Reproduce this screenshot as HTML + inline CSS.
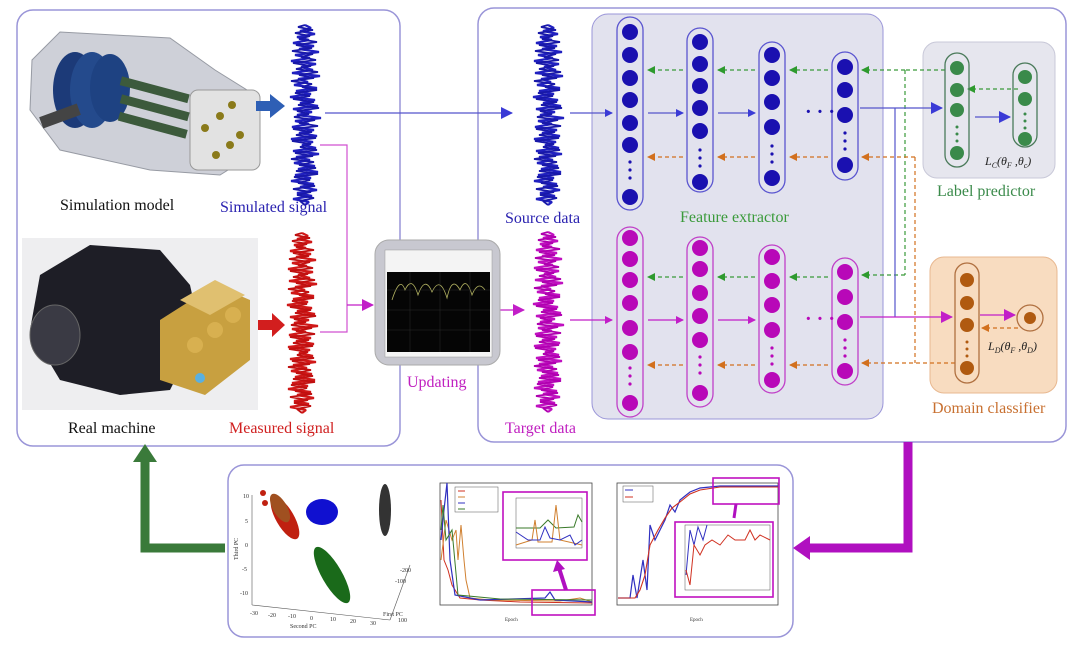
<!DOCTYPE html>
<html><head><meta charset="utf-8"><style>
html,body{margin:0;padding:0;background:#fff;}
svg{display:block;font-family:"Liberation Serif",serif;}
</style></head><body>
<svg width="1080" height="649" viewBox="0 0 1080 649" xmlns="http://www.w3.org/2000/svg">
<defs>
<path id="sig" d="M0,0 L6,3 L-5,6 L10,9 L-8,12 L4,15 L-12,18 L9,21 L-6,24 L14,27 L-10,30 L5,33 L-14,36 L11,39 L-4,42 L8,45 L-13,48 L15,51 L-7,54 L3,57 L-11,60 L12,63 L-9,66 L6,69 L-15,72 L10,75 L-5,78 L13,81 L-12,84 L7,87 L-8,90 L16,93 L-10,96 L4,99 L-13,102 L9,105 L-6,108 L12,111 L-14,114 L8,117 L-3,120 L11,123 L-12,126 L14,129 L-9,132 L5,135 L-11,138 L10,141 L-7,144 L13,147 L-10,150 L6,153 L-14,156 L9,159 L-5,162 L12,165 L-8,168 L7,171 L-12,174 L4,177 L0,180" fill="none" stroke="currentColor" stroke-width="2.2" stroke-linejoin="bevel"/>
<path id="sig2" d="M0,0 L-7,2 L8,5 L-10,8 L5,11 L-6,14 L12,17 L-9,20 L7,23 L-13,26 L8,29 L-4,32 L11,35 L-12,38 L6,41 L-9,44 L13,47 L-6,50 L9,53 L-14,56 L7,59 L-3,62 L12,65 L-10,68 L5,71 L-12,74 L9,77 L-7,80 L14,83 L-8,86 L4,89 L-11,92 L10,95 L-6,98 L13,101 L-12,104 L7,107 L-9,110 L11,113 L-13,116 L6,119 L-5,122 L12,125 L-10,128 L8,131 L-14,134 L9,137 L-6,140 L11,143 L-9,146 L13,149 L-11,152 L5,155 L-7,158 L10,161 L-12,164 L6,167 L-8,170 L9,173 L-5,176 L0,180" fill="none" stroke="currentColor" stroke-width="1.8" stroke-linejoin="bevel"/>
<marker id="ab" markerWidth="8" markerHeight="8" refX="7" refY="4" orient="auto" markerUnits="userSpaceOnUse"><path d="M0,0 L8,4 L0,8z" fill="#3b3bd6"/></marker>
<marker id="am" markerWidth="8" markerHeight="8" refX="7" refY="4" orient="auto" markerUnits="userSpaceOnUse"><path d="M0,0 L8,4 L0,8z" fill="#c21ec8"/></marker>
<marker id="ag" markerWidth="8" markerHeight="8" refX="7" refY="4" orient="auto" markerUnits="userSpaceOnUse"><path d="M0,0 L8,4 L0,8z" fill="#2e9a2e"/></marker>
<marker id="ao" markerWidth="8" markerHeight="8" refX="7" refY="4" orient="auto" markerUnits="userSpaceOnUse"><path d="M0,0 L8,4 L0,8z" fill="#d2701e"/></marker>
<marker id="abb" markerWidth="12" markerHeight="12" refX="11" refY="6" orient="auto" markerUnits="userSpaceOnUse"><path d="M0,0 L12,6 L0,12z" fill="#3b3bd6"/></marker>
<marker id="amb" markerWidth="12" markerHeight="12" refX="11" refY="6" orient="auto" markerUnits="userSpaceOnUse"><path d="M0,0 L12,6 L0,12z" fill="#c21ec8"/></marker>
</defs>

<rect x="17" y="10" width="383" height="436" rx="16" fill="none" stroke="#9a95d8" stroke-width="1.5"/>
<rect x="478" y="8" width="588" height="434" rx="16" fill="none" stroke="#9a95d8" stroke-width="1.5"/>
<rect x="592" y="14" width="291" height="405" rx="16" fill="#e2e2ee" stroke="#9a95d8" stroke-width="1"/>
<rect x="923" y="42" width="132" height="136" rx="14" fill="#e6e6ee" stroke="#c8c8d8"/>
<rect x="930" y="257" width="127" height="136" rx="14" fill="#f8dcc0" stroke="#e8b890"/>
<rect x="228" y="465" width="565" height="172" rx="16" fill="none" stroke="#9a95d8" stroke-width="1.5"/>

<g>
<polygon points="32,60 60,32 170,38 215,70 255,95 260,150 220,175 150,170 60,150 30,110" fill="#c9ccd4" stroke="#8c909a" stroke-width="1" opacity="0.9"/>
<rect x="190" y="90" width="70" height="80" rx="8" fill="#e2e2e2" stroke="#999"/>
<ellipse cx="75" cy="90" rx="22" ry="38" fill="#1c3a78"/>
<ellipse cx="92" cy="90" rx="22" ry="38" fill="#244a8c"/>
<ellipse cx="110" cy="88" rx="20" ry="34" fill="#1e4282"/>
<rect x="40" y="110" width="40" height="12" fill="#444" transform="rotate(-20 60 116)"/>
<rect x="120" y="84" width="70" height="9" fill="#3c5a3c" transform="rotate(15 150 88)"/>
<rect x="120" y="102" width="70" height="9" fill="#3c5a3c" transform="rotate(15 150 106)"/>
<rect x="118" y="120" width="70" height="9" fill="#3c5a3c" transform="rotate(15 150 124)"/>
<circle cx="205" cy="128" r="4" fill="#8a7a1a"/><circle cx="220" cy="116" r="4" fill="#8a7a1a"/><circle cx="232" cy="105" r="4" fill="#8a7a1a"/>
<circle cx="216" cy="155" r="4" fill="#8a7a1a"/><circle cx="230" cy="145" r="4" fill="#8a7a1a"/><circle cx="240" cy="135" r="4" fill="#8a7a1a"/>
</g>
<path d="M256,101 L270,101 L270,94 L285,106 L270,118 L270,111 L256,111z" fill="#2e5fb5"/>
<rect x="22" y="238" width="236" height="172" fill="#eeeef0"/>
<g>
<polygon points="30,330 40,275 90,245 160,250 190,285 200,330 170,390 120,395 60,380" fill="#1e1e26"/>
<ellipse cx="55" cy="335" rx="25" ry="30" fill="#3a3a44" stroke="#666"/>
<polygon points="160,320 215,285 250,300 250,360 205,395 160,380" fill="#c8a040"/>
<polygon points="180,300 215,280 245,295 210,315" fill="#e0c070"/>
<circle cx="195" cy="345" r="8" fill="#d8b050"/><circle cx="215" cy="330" r="8" fill="#d8b050"/><circle cx="233" cy="315" r="8" fill="#d8b050"/>
<circle cx="200" cy="378" r="5" fill="#5ab0e0"/>
</g>
<path d="M258,320 L272,320 L272,313 L285,325 L272,337 L272,330 L258,330z" fill="#d21e1e"/>

<use href="#sig" x="305" y="25" color="#2020c0"/>
<use href="#sig2" x="305" y="25" color="#1818a8"/>
<use href="#sig" x="302" y="233" color="#d01818"/>
<use href="#sig2" x="302" y="233" color="#c01010"/>
<use href="#sig" x="548" y="25" color="#2020c0"/>
<use href="#sig2" x="548" y="25" color="#1818a8"/>
<use href="#sig" x="548" y="232" color="#c010c0"/>
<use href="#sig2" x="548" y="232" color="#b000b0"/>

<line x1="325" y1="113" x2="512" y2="113" stroke="#5555cc" stroke-width="1.3" marker-end="url(#abb)"/>
<polyline points="320,145 347,145 347,332 320,332" fill="none" stroke="#d050d0" stroke-width="1.2"/>
<line x1="347" y1="305" x2="373" y2="305" stroke="#c21ec8" stroke-width="1.2" marker-end="url(#amb)"/>
<line x1="497" y1="310" x2="524" y2="310" stroke="#c21ec8" stroke-width="1.2" marker-end="url(#amb)"/>

<rect x="375" y="240" width="125" height="125" rx="14" fill="#c8c8d0" stroke="#aaa"/>
<rect x="385" y="250" width="107" height="107" fill="#f4f4f4" stroke="#999" stroke-width="0.5"/>
<rect x="387" y="272" width="103" height="80" fill="#050505"/>
<path d="M392,300 Q400,275 405,290 Q412,275 418,295 Q425,275 432,292 Q440,275 447,298 Q452,275 460,290 Q466,275 472,295 Q478,280 485,290" fill="none" stroke="#b0b060" stroke-width="0.8"/>
<g stroke="#333" stroke-width="0.4"><line x1="387" y1="290" x2="490" y2="290"/><line x1="387" y1="310" x2="490" y2="310"/><line x1="387" y1="330" x2="490" y2="330"/><line x1="410" y1="272" x2="410" y2="352"/><line x1="440" y1="272" x2="440" y2="352"/><line x1="470" y1="272" x2="470" y2="352"/></g>

<g font-size="16">
<text x="60" y="210" fill="#111">Simulation model</text>
<text x="220" y="212" fill="#2a22b0">Simulated signal</text>
<text x="68" y="433" fill="#111">Real machine</text>
<text x="229" y="433" fill="#d02020">Measured signal</text>
<text x="407" y="387" fill="#c020c0">Updating</text>
<text x="505" y="223" fill="#2a22b0">Source data</text>
<text x="505" y="433" fill="#c020c0">Target data</text>
<text x="680" y="222" fill="#3a9a3a">Feature extractor</text>
<text x="937" y="196" fill="#3a8a4a">Label predictor</text>
<text x="932" y="413" fill="#c87030">Domain classifier</text>
</g>
<g font-size="12" font-style="italic" fill="#222">
<text x="985" y="165">L<tspan font-size="8" dy="3">C</tspan><tspan dy="-3">(θ</tspan><tspan font-size="8" dy="3">F</tspan><tspan dy="-3"> ,θ</tspan><tspan font-size="8" dy="3">c</tspan><tspan dy="-3">)</tspan></text>
<text x="988" y="350">L<tspan font-size="8" dy="3">D</tspan><tspan dy="-3">(θ</tspan><tspan font-size="8" dy="3">F</tspan><tspan dy="-3"> ,θ</tspan><tspan font-size="8" dy="3">D</tspan><tspan dy="-3">)</tspan></text>
</g>

<g fill="none" stroke="#5a55d0" stroke-width="1.3">
<rect x="617" y="17" width="26" height="193" rx="13"/>
<rect x="687" y="28" width="26" height="164" rx="13"/>
<rect x="759" y="42" width="26" height="151" rx="13"/>
<rect x="832" y="52" width="26" height="128" rx="13"/>
</g>
<g fill="#1a10b0">
<circle cx="630" cy="32" r="8"/><circle cx="630" cy="55" r="8"/><circle cx="630" cy="78" r="8"/><circle cx="630" cy="100" r="8"/><circle cx="630" cy="123" r="8"/><circle cx="630" cy="145" r="8"/>
<circle cx="630" cy="162" r="1.6"/><circle cx="630" cy="170" r="1.6"/><circle cx="630" cy="178" r="1.6"/><circle cx="630" cy="197" r="8"/>
<circle cx="700" cy="42" r="8"/><circle cx="700" cy="64" r="8"/><circle cx="700" cy="86" r="8"/><circle cx="700" cy="108" r="8"/><circle cx="700" cy="131" r="8"/>
<circle cx="700" cy="150" r="1.6"/><circle cx="700" cy="158" r="1.6"/><circle cx="700" cy="166" r="1.6"/><circle cx="700" cy="182" r="8"/>
<circle cx="772" cy="55" r="8"/><circle cx="772" cy="78" r="8"/><circle cx="772" cy="102" r="8"/><circle cx="772" cy="127" r="8"/>
<circle cx="772" cy="146" r="1.6"/><circle cx="772" cy="154" r="1.6"/><circle cx="772" cy="162" r="1.6"/><circle cx="772" cy="178" r="8"/>
<circle cx="845" cy="67" r="8"/><circle cx="845" cy="90" r="8"/><circle cx="845" cy="115" r="8"/>
<circle cx="845" cy="133" r="1.6"/><circle cx="845" cy="141" r="1.6"/><circle cx="845" cy="149" r="1.6"/><circle cx="845" cy="165" r="8"/>
</g>
<g fill="none" stroke="#c040c8" stroke-width="1.3">
<rect x="617" y="227" width="26" height="190" rx="13"/>
<rect x="687" y="237" width="26" height="170" rx="13"/>
<rect x="759" y="245" width="26" height="148" rx="13"/>
<rect x="832" y="258" width="26" height="127" rx="13"/>
</g>
<g fill="#b808b8">
<circle cx="630" cy="238" r="8"/><circle cx="630" cy="259" r="8"/><circle cx="630" cy="280" r="8"/><circle cx="630" cy="303" r="8"/><circle cx="630" cy="328" r="8"/><circle cx="630" cy="352" r="8"/>
<circle cx="630" cy="368" r="1.6"/><circle cx="630" cy="376" r="1.6"/><circle cx="630" cy="384" r="1.6"/><circle cx="630" cy="403" r="8"/>
<circle cx="700" cy="248" r="8"/><circle cx="700" cy="269" r="8"/><circle cx="700" cy="293" r="8"/><circle cx="700" cy="316" r="8"/><circle cx="700" cy="340" r="8"/>
<circle cx="700" cy="357" r="1.6"/><circle cx="700" cy="365" r="1.6"/><circle cx="700" cy="373" r="1.6"/><circle cx="700" cy="393" r="8"/>
<circle cx="772" cy="257" r="8"/><circle cx="772" cy="281" r="8"/><circle cx="772" cy="305" r="8"/><circle cx="772" cy="330" r="8"/>
<circle cx="772" cy="348" r="1.6"/><circle cx="772" cy="356" r="1.6"/><circle cx="772" cy="364" r="1.6"/><circle cx="772" cy="380" r="8"/>
<circle cx="845" cy="272" r="8"/><circle cx="845" cy="297" r="8"/><circle cx="845" cy="322" r="8"/>
<circle cx="845" cy="340" r="1.6"/><circle cx="845" cy="348" r="1.6"/><circle cx="845" cy="356" r="1.6"/><circle cx="845" cy="371" r="8"/>
</g>
<g font-size="20" font-weight="bold" fill="#1a10b0"><text x="805" y="118">· · ·</text></g>
<g font-size="20" font-weight="bold" fill="#b808b8"><text x="805" y="325">· · ·</text></g>

<g stroke-width="1.2">
<line x1="570" y1="113" x2="612" y2="113" stroke="#5555cc" marker-end="url(#ab)"/>
<line x1="648" y1="113" x2="683" y2="113" stroke="#5555cc" marker-end="url(#ab)"/>
<line x1="718" y1="113" x2="755" y2="113" stroke="#5555cc" marker-end="url(#ab)"/>
<line x1="570" y1="320" x2="612" y2="320" stroke="#c21ec8" marker-end="url(#am)"/>
<line x1="648" y1="320" x2="683" y2="320" stroke="#c21ec8" marker-end="url(#am)"/>
<line x1="718" y1="320" x2="755" y2="320" stroke="#c21ec8" marker-end="url(#am)"/>
<g stroke-dasharray="4,3">
<line x1="683" y1="70" x2="648" y2="70" stroke="#3a9a3a" marker-end="url(#ag)"/>
<line x1="755" y1="70" x2="718" y2="70" stroke="#3a9a3a" marker-end="url(#ag)"/>
<line x1="828" y1="70" x2="790" y2="70" stroke="#3a9a3a" marker-end="url(#ag)"/>
<line x1="683" y1="157" x2="648" y2="157" stroke="#d2701e" marker-end="url(#ao)"/>
<line x1="755" y1="157" x2="718" y2="157" stroke="#d2701e" marker-end="url(#ao)"/>
<line x1="828" y1="157" x2="790" y2="157" stroke="#d2701e" marker-end="url(#ao)"/>
<line x1="683" y1="277" x2="648" y2="277" stroke="#3a9a3a" marker-end="url(#ag)"/>
<line x1="755" y1="277" x2="718" y2="277" stroke="#3a9a3a" marker-end="url(#ag)"/>
<line x1="828" y1="277" x2="790" y2="277" stroke="#3a9a3a" marker-end="url(#ag)"/>
<line x1="683" y1="365" x2="648" y2="365" stroke="#d2701e" marker-end="url(#ao)"/>
<line x1="755" y1="365" x2="718" y2="365" stroke="#d2701e" marker-end="url(#ao)"/>
<line x1="828" y1="365" x2="790" y2="365" stroke="#d2701e" marker-end="url(#ao)"/>
<polyline points="945,70 905,70" fill="none" stroke="#3a9a3a"/>
<line x1="905" y1="70" x2="862" y2="70" stroke="#3a9a3a" marker-end="url(#ag)"/>
<line x1="905" y1="70" x2="905" y2="275" stroke="#3a9a3a"/>
<line x1="905" y1="275" x2="862" y2="275" stroke="#3a9a3a" marker-end="url(#ag)"/>
<line x1="915" y1="157" x2="862" y2="157" stroke="#d2701e" marker-end="url(#ao)"/>
<line x1="915" y1="157" x2="915" y2="363" stroke="#d2701e"/>
<line x1="955" y1="363" x2="862" y2="363" stroke="#d2701e" marker-end="url(#ao)"/>
<line x1="1018" y1="89" x2="968" y2="89" stroke="#3a9a3a" marker-end="url(#ag)"/>
<line x1="1018" y1="328" x2="982" y2="328" stroke="#d2701e" marker-end="url(#ao)"/>
</g>
<line x1="860" y1="108" x2="942" y2="108" stroke="#5555cc" marker-end="url(#abb)"/>
<line x1="895" y1="108" x2="895" y2="317" stroke="#5555cc"/>
<line x1="860" y1="317" x2="952" y2="317" stroke="#c21ec8" marker-end="url(#amb)"/>
<line x1="975" y1="117" x2="1010" y2="117" stroke="#5555cc" marker-end="url(#abb)"/>
<line x1="980" y1="315" x2="1015" y2="315" stroke="#c21ec8" marker-end="url(#amb)"/>
</g>

<g fill="none" stroke="#4a7a5a" stroke-width="1.3">
<rect x="945" y="53" width="24" height="114" rx="12"/>
<rect x="1013" y="63" width="24" height="84" rx="12"/>
</g>
<g fill="#3a8a4a">
<circle cx="957" cy="68" r="7"/><circle cx="957" cy="90" r="7"/><circle cx="957" cy="110" r="7"/>
<circle cx="957" cy="127" r="1.5"/><circle cx="957" cy="134" r="1.5"/><circle cx="957" cy="141" r="1.5"/><circle cx="957" cy="153" r="7"/>
<circle cx="1025" cy="77" r="7"/><circle cx="1025" cy="99" r="7"/>
<circle cx="1025" cy="114" r="1.5"/><circle cx="1025" cy="121" r="1.5"/><circle cx="1025" cy="128" r="1.5"/><circle cx="1025" cy="139" r="7"/>
</g>
<g fill="none" stroke="#b07040" stroke-width="1.3">
<rect x="955" y="263" width="24" height="120" rx="12"/>
<ellipse cx="1030" cy="318" rx="13" ry="13"/>
</g>
<g fill="#b05a10">
<circle cx="967" cy="280" r="7"/><circle cx="967" cy="303" r="7"/><circle cx="967" cy="325" r="7"/>
<circle cx="967" cy="342" r="1.5"/><circle cx="967" cy="349" r="1.5"/><circle cx="967" cy="356" r="1.5"/><circle cx="967" cy="368" r="7"/>
<circle cx="1030" cy="318" r="6"/>
</g>

<polyline points="225,548 145,548 145,460" fill="none" stroke="#3a7a3a" stroke-width="9"/>
<path d="M133,462 L145,444 L157,462z" fill="#3a7a3a"/>
<polyline points="908,442 908,548 808,548" fill="none" stroke="#b010c0" stroke-width="9"/>
<path d="M810,536 L793,548 L810,560z" fill="#b010c0"/>

<g font-size="6" fill="#333">
<line x1="252" y1="495" x2="252" y2="605" stroke="#555" stroke-width="0.6"/>
<line x1="252" y1="605" x2="390" y2="620" stroke="#555" stroke-width="0.6"/>
<line x1="390" y1="620" x2="410" y2="565" stroke="#555" stroke-width="0.6"/>
<text x="243" y="498">10</text><text x="245" y="523">5</text><text x="245" y="547">0</text><text x="242" y="571">-5</text><text x="240" y="595">-10</text>
<text x="250" y="615">-30</text><text x="268" y="617">-20</text><text x="288" y="618">-10</text><text x="310" y="620">0</text><text x="330" y="621">10</text><text x="350" y="623">20</text><text x="370" y="625">30</text>
<text x="290" y="628">Second PC</text><text x="383" y="616">First PC</text><text x="398" y="622">100</text><text x="395" y="583">-100</text><text x="400" y="572">-200</text>
<text x="0" y="0" transform="translate(238,560) rotate(-90)">Third PC</text>
</g>
<g>
<ellipse cx="285" cy="518" rx="9" ry="24" transform="rotate(-30 285 518)" fill="#c02010"/>
<ellipse cx="280" cy="508" rx="7" ry="16" transform="rotate(-30 280 508)" fill="#a05020"/>
<circle cx="263" cy="493" r="3" fill="#c02010"/><circle cx="265" cy="503" r="3" fill="#c02010"/>
<ellipse cx="322" cy="512" rx="16" ry="13" fill="#1010d0"/>
<ellipse cx="385" cy="510" rx="6" ry="26" fill="#333"/>
<ellipse cx="332" cy="575" rx="10" ry="32" transform="rotate(-30 332 575)" fill="#1a6a1a"/>
</g>
<g>
<rect x="440" y="483" width="152" height="122" fill="none" stroke="#444" stroke-width="0.8"/>
<path d="M441,500 L444,560 L448,570 L452,585 L460,598 L480,600 L520,602 L592,603" fill="none" stroke="#d03020" stroke-width="1"/>
<path d="M441,560 L446,520 L452,540 L456,530 L458,560 L461,525 L464,560 L466,580 L470,598 L490,600 L560,601 L580,598 L592,602" fill="none" stroke="#d08030" stroke-width="1"/>
<path d="M441,540 L444,510 L447,483 L450,560 L455,595 L480,600 L545,598 L550,592 L555,600 L592,602" fill="none" stroke="#3030c0" stroke-width="1.2"/>
<path d="M441,530 L443,505 L446,540 L452,530 L458,595 L500,599 L592,600" fill="none" stroke="#3a7a2a" stroke-width="1"/>
<rect x="455" y="487" width="43" height="25" fill="#fff" stroke="#555" stroke-width="0.5"/>
<g stroke-width="1"><line x1="458" y1="491" x2="465" y2="491" stroke="#d03020"/><line x1="458" y1="497" x2="465" y2="497" stroke="#d08030"/><line x1="458" y1="503" x2="465" y2="503" stroke="#3030c0"/><line x1="458" y1="509" x2="465" y2="509" stroke="#3a7a2a"/></g>
<rect x="503" y="492" width="84" height="68" fill="#fff" stroke="#c010c0" stroke-width="1.6"/>
<rect x="516" y="498" width="66" height="50" fill="none" stroke="#555" stroke-width="0.5"/>
<path d="M516,528 L540,528 L548,520 L556,528 L574,527 L578,515 L582,522" fill="none" stroke="#3a7a2a" stroke-width="1"/>
<path d="M516,545 L532,540 L535,520 L538,542 L552,542 L556,505 L560,540 L582,545" fill="none" stroke="#d08030" stroke-width="1"/>
<path d="M516,532 L528,540 L540,540 L545,527 L550,538 L560,540 L570,535 L575,545 L582,540" fill="none" stroke="#3030c0" stroke-width="1"/>
<rect x="532" y="590" width="63" height="25" fill="none" stroke="#c010c0" stroke-width="1.6"/>
<line x1="566" y1="590" x2="559" y2="568" stroke="#b010c0" stroke-width="4"/>
<path d="M553,572 L557,560 L565,569z" fill="#b010c0"/>
<g font-size="5" fill="#333"><text x="505" y="621">Epoch</text></g>
</g>
<g>
<rect x="617" y="483" width="161" height="122" fill="none" stroke="#444" stroke-width="0.8"/>
<path d="M618,598 L630,598 L633,575 L637,598 L643,560 L647,590 L650,525 L655,540 L665,520 L670,505 L675,512 L680,500 L685,496 L690,492 L700,488 L720,486 L778,486" fill="none" stroke="#3030c0" stroke-width="1.2"/>
<path d="M618,598 L635,598 L640,590 L645,575 L650,545 L658,530 L665,518 L672,508 L680,502 L690,494 L700,490 L720,487 L778,487" fill="none" stroke="#d03020" stroke-width="1.1"/>
<rect x="623" y="486" width="30" height="16" fill="#fff" stroke="#555" stroke-width="0.5"/>
<line x1="625" y1="490" x2="633" y2="490" stroke="#3030c0" stroke-width="1"/><line x1="625" y1="497" x2="633" y2="497" stroke="#d03020" stroke-width="1"/>
<rect x="713" y="478" width="66" height="26" fill="none" stroke="#c010c0" stroke-width="1.6"/>
<rect x="675" y="522" width="98" height="75" fill="#fff" stroke="#c010c0" stroke-width="1.6"/>
<rect x="685" y="525" width="85" height="65" fill="none" stroke="#555" stroke-width="0.5"/>
<path d="M686,575 L690,530 L694,545 L698,527 L703,540 L707,525" fill="none" stroke="#3030c0" stroke-width="1"/>
<path d="M686,570 L690,585 L694,545 L700,555 L705,545 L712,540 L720,545 L728,535 L735,540 L745,540 L750,530 L755,540 L760,535 L770,540" fill="none" stroke="#d03020" stroke-width="1"/>
<line x1="736" y1="504" x2="734" y2="518" stroke="#b010c0" stroke-width="3"/>
<g font-size="5" fill="#333"><text x="690" y="621">Epoch</text></g>
</g>
</svg>
</body></html>
